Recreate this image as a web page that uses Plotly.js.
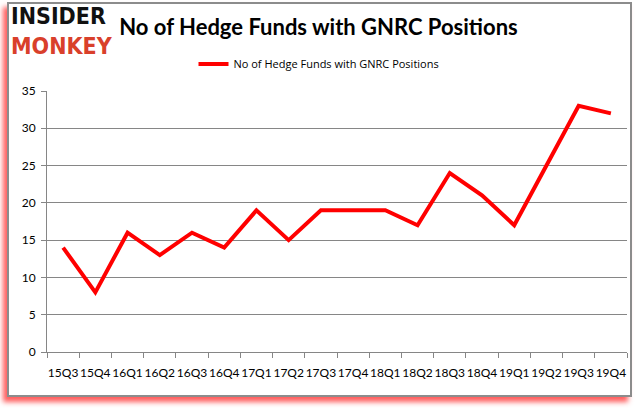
<!DOCTYPE html>
<html>
<head>
<meta charset="utf-8">
<script src="https://cdn.plot.ly/plotly-3.0.1.min.js"></script>
<style>
  html, body { margin: 0; padding: 0; background: #ffffff; }
  #frame {
    position: absolute; left: 7px; top: 2px; width: 621px; height: 391px;
    border: 2px solid #8c8c8c; background: #ffffff;
    box-shadow: -4px 5px 5px rgba(255, 40, 40, 0.75);
  }
  #chart { position: absolute; left: 0; top: 0; width: 637px; height: 408px; }
</style>
</head>
<body>
<div id="frame"></div>
<div id="chart"></div>
<script>
const quarters = ["15Q3","15Q4","16Q1","16Q2","16Q3","16Q4","17Q1","17Q2","17Q3","17Q4","18Q1","18Q2","18Q3","18Q4","19Q1","19Q2","19Q3","19Q4"];
const hedgeFunds = [14, 8, 16, 13, 16, 14, 19, 15, 19, 19, 19, 17, 24, 21, 17, 25, 33, 32];
const yTicks = [0, 5, 10, 15, 20, 25, 30, 35];
const seriesName = "No of Hedge Funds with GNRC Positions";
const chartTitle = "No of Hedge Funds with GNRC Positions";

const trace = {
  x: quarters, y: hedgeFunds, type: "scatter", mode: "lines",
  name: seriesName,
  line: { color: "#ff0000", width: 4 }
};

const layout = {
  width: 637, height: 408,
  paper_bgcolor: "rgba(0,0,0,0)", plot_bgcolor: "rgba(0,0,0,0)",
  margin: { l: 47, r: 10, t: 91, b: 56 },
  font: { family: "Lato, sans-serif", size: 12, color: "#000" },
  title: {
    text: "<b>" + chartTitle + "</b>",
    font: { family: "Lato, sans-serif", size: 22, color: "#000" },
    x: 0.5, xref: "container", xanchor: "center", y: 1 - 27/408, yanchor: "middle"
  },
  showlegend: true,
  legend: {
    orientation: "h", x: 0.5 - 18 / 580, xanchor: "center", xref: "paper",
    y: 1 + (91 - 64) / 261, yanchor: "middle",
    font: { family: "Open Sans, sans-serif", size: 11, color: "#000" },
    itemwidth: 30, bgcolor: "rgba(0,0,0,0)"
  },
  xaxis: {
    type: "category", range: [-0.5, 17.5],
    showline: true, linecolor: "#868686", linewidth: 1,
    ticks: "outside", tickson: "boundaries", ticklen: 5, tickcolor: "#868686",
    showgrid: false, zeroline: false, tickangle: 0,
    tickfont: { family: "Lato, sans-serif", size: 12, color: "#000" },
    ticklabelstandoff: 10
  },
  yaxis: {
    range: [0, 35], tickvals: yTicks,
    showline: true, linecolor: "#868686", linewidth: 1,
    ticks: "outside", ticklen: 5, tickcolor: "#868686",
    showgrid: true, gridcolor: "#868686", gridwidth: 1, zeroline: false,
    tickfont: { family: "Lato, sans-serif", size: 12, color: "#000" },
    ticklabelstandoff: 3
  },
  annotations: [
    { text: "<b>INSIDER</b><br><b><span style='color:#d9402b'>MONKEY</span></b>",
      xref: "paper", yref: "paper", align: "left",
      x: (9 - 47) / 580, y: 1 + (91 - 31) / 261, xanchor: "left", yanchor: "middle",
      showarrow: false, font: { family: "DejaVu Sans Condensed, DejaVu Sans, sans-serif", size: 23, color: "#111" } }
  ]
};

Plotly.newPlot("chart", [trace], layout, { displayModeBar: false, staticPlot: true });
</script>
</body>
</html>
